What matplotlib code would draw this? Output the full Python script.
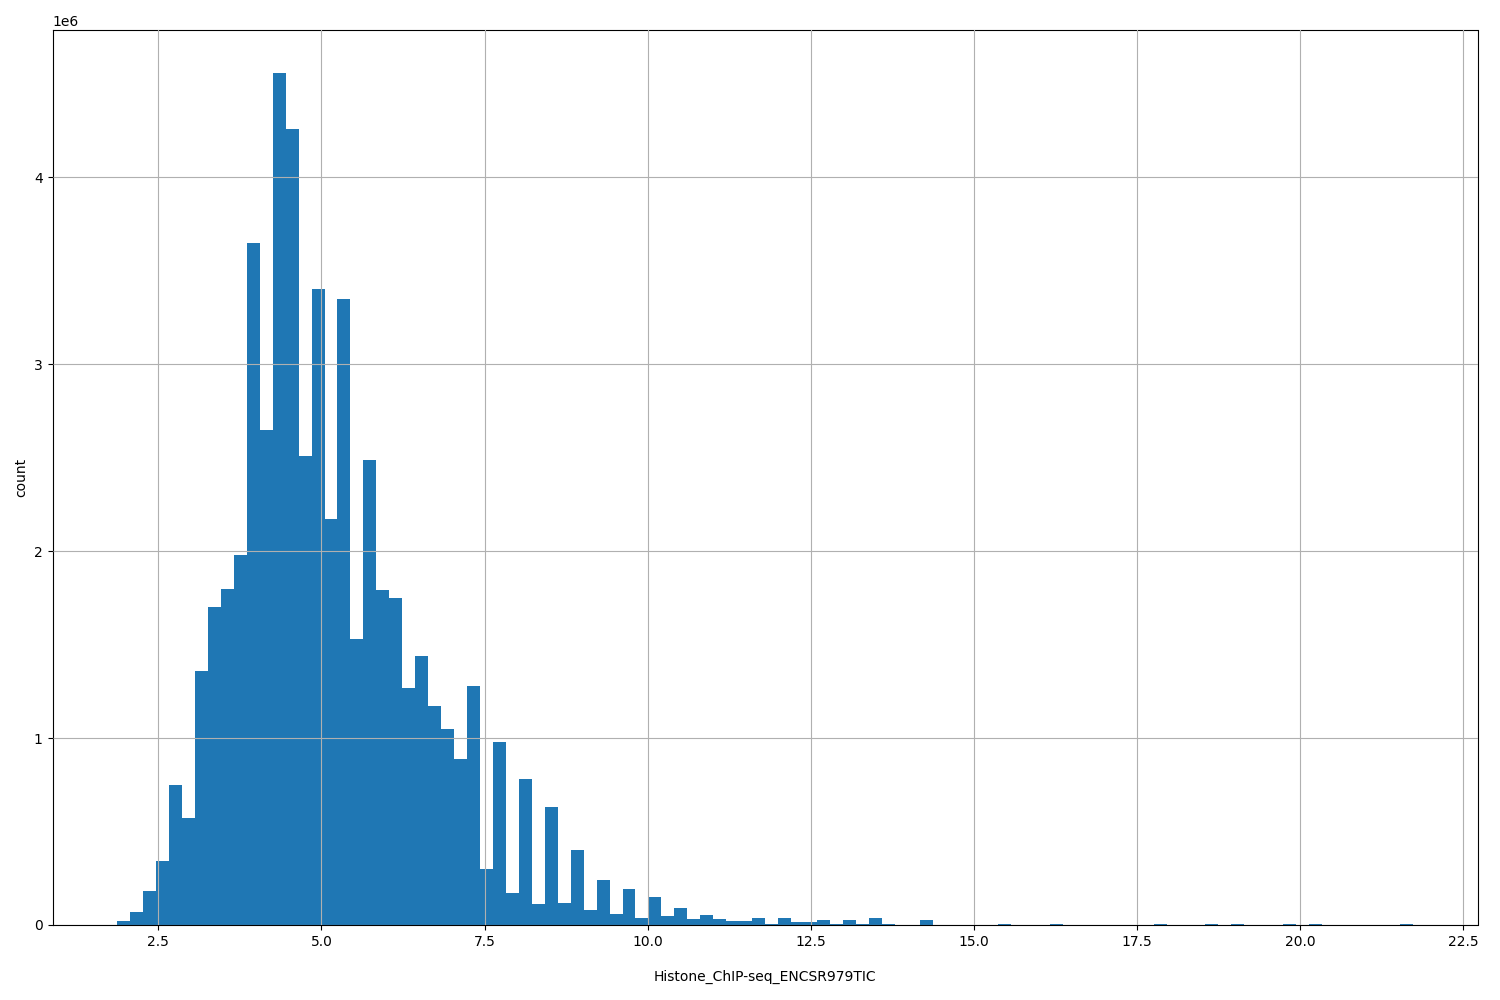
import numpy as np
import matplotlib
matplotlib.use("Agg")
import matplotlib.pyplot as plt

xmin, xmax = 1.87, 21.73
nbins = 100
counts_m = [0.02,0.07,0.18,0.34,0.75,0.57,1.36,1.70,1.80,1.98,
            3.65,2.65,4.56,4.26,2.51,3.40,2.17,3.35,1.53,2.49,
            1.79,1.75,1.27,1.44,1.17,1.05,0.89,1.28,0.30,0.98,
            0.17,0.78,0.11,0.63,0.12,0.40,0.08,0.24,0.06,0.19,
            0.04,0.15,0.05,0.09,0.03,0.055,0.03,0.02,0.02,0.035,
            0.005,0.035,0.015,0.015,0.025,0.003,0.025,0.008,0.04,0.003,
            0.002,0.002,0.025,0.001,0.001,0.001,0.001,0.001,0.006,0.001,
            0.001,0.001,0.005,0.001,0.001,0.001,0.001,0.001,0.001,0.001,
            0.005,0.001,0.001,0.001,0.004,0.001,0.004,0.001,0.001,0.001,
            0.004,0.001,0.005,0.001,0.001,0.001,0.001,0.001,0.001,0.004]

edges = np.linspace(xmin, xmax, nbins + 1)
centers = (edges[:-1] + edges[1:]) / 2
weights = np.array(counts_m) * 1e6

fig, ax = plt.subplots(figsize=(15, 10), dpi=100)
ax.hist(centers, bins=edges, weights=weights, color="#1f77b4")
ax.grid(True)
ax.set_axisbelow(False)
ax.set_xlabel("Histone_ChIP-seq_ENCSR979TIC", labelpad=15)
ax.set_ylabel("count")
fig.subplots_adjust(left=0.035, right=0.985, top=0.97, bottom=0.075)
fig.savefig("out.png")
